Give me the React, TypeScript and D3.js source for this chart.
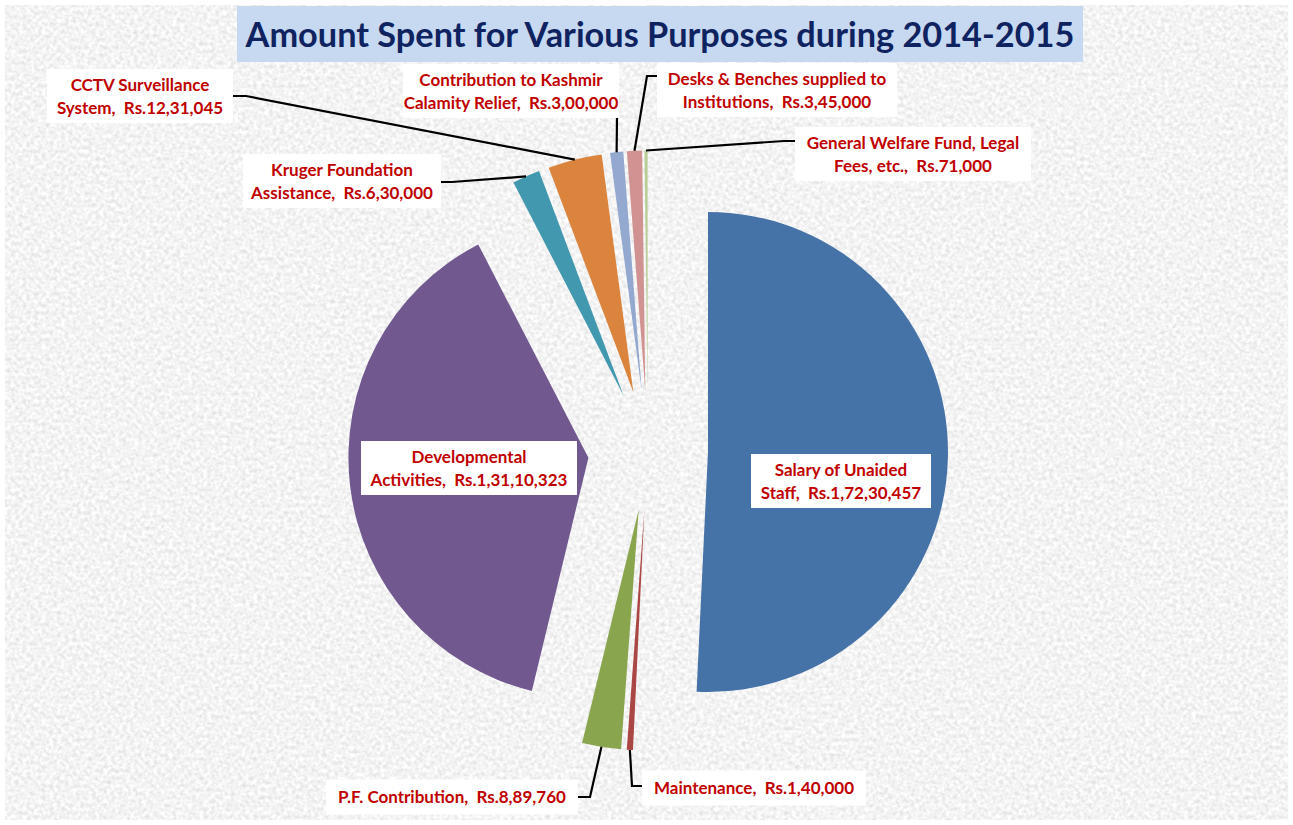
import React from "react";
import * as d3 from "d3";

// Spending heads, clockwise from 12 o'clock
const categories = [
  "Salary of Unaided Staff",
  "Maintenance",
  "P.F. Contribution",
  "Developmental Activities",
  "Kruger Foundation Assistance",
  "CCTV Surveillance System",
  "Contribution to Kashmir Calamity Relief",
  "Desks & Benches supplied to Institutions",
  "General Welfare Fund, Legal Fees, etc.",
];

const amounts = [17230457, 140000, 889760, 13110323, 630000, 1231045, 300000, 345000, 71000];

const labelLines = [
  ["Salary of Unaided", "Staff,  Rs.1,72,30,457"],
  ["Maintenance,  Rs.1,40,000"],
  ["P.F. Contribution,  Rs.8,89,760"],
  ["Developmental", "Activities,  Rs.1,31,10,323"],
  ["Kruger Foundation", "Assistance,  Rs.6,30,000"],
  ["CCTV Surveillance", "System,  Rs.12,31,045"],
  ["Contribution to Kashmir", "Calamity Relief,  Rs.3,00,000"],
  ["Desks & Benches supplied to", "Institutions,  Rs.3,45,000"],
  ["General Welfare Fund, Legal", "Fees, etc.,  Rs.71,000"],
];

const colors = ["#4572A7", "#AA4643", "#89A54E", "#71588F", "#4198AF", "#DB843D", "#93A9CF", "#D19392", "#B9CD96"];

const title = "Amount Spent for Various Purposes during 2014-2015";

// label box centres and widths (layout) and leader start/bend points
const labelPos: [number, number][] = [
  [841, 481], [754, 788], [452, 797], [469, 468], [342, 181],
  [140, 96], [511, 91], [777, 90], [913, 154],
];
const boxWidths = [180, 224, 252, 216, 198, 186, 216, 240, 236];
const leaders: ([number, number][] | null)[] = [
  null,
  [[642, 786], [632, 786]],
  [[578, 797], [590, 797]],
  null,
  [[441, 182], [452, 182]],
  [[233, 96], [246, 96]],
  [[617, 116], [617, 117]],
  [[657, 76], [647, 76]],
  [[795, 141], [784, 141]],
];

const W = 1293;
const H = 825;
const cx = 648;
const cy = 450.5;
const R = 240;
const explode = 60;

export default function App() {
  const arcs = d3.pie<number>().sort(null).startAngle(0).endAngle(2 * Math.PI).value((d) => d)(amounts);
  const arcGen = d3.arc<d3.PieArcDatum<number>>().innerRadius(0).outerRadius(R);
  const font = "Lato, 'Open Sans', sans-serif";
  const fs = 17;
  const lh = 23;

  return (
    <svg width={W} height={H} style={{ position: "absolute", left: 0, top: 0 }} fontFamily={font}>
      <defs>
        <filter id="grain" x="0" y="0" width="100%" height="100%">
          <feTurbulence type="fractalNoise" baseFrequency="0.26" numOctaves="2" seed="7" />
          <feColorMatrix
            type="matrix"
            values="0.42 0 0 0 0.69  0.42 0 0 0 0.69  0.42 0 0 0 0.69  0 0 0 0 1"
          />
        </filter>
      </defs>
      <rect width={W} height={H} fill="#ffffff" />
      <rect x={5} y={5} width={W - 10} height={H - 10} fill="#e6e6e6" filter="url(#grain)" />

      {/* title */}
      <rect x={237} y={6} width={846} height={56} fill="#c6d9f1" />
      <text x={660} y={47} textAnchor="middle" fontSize={34.3} fontWeight={700} fill="#0f2360">
        {title}
      </text>

      {/* slices */}
      {arcs.map((a, i) => {
        const mid = (a.startAngle + a.endAngle) / 2;
        const dx = Math.sin(mid) * explode;
        const dy = -Math.cos(mid) * explode;
        return (
          <path
            key={categories[i]}
            d={arcGen(a) || ""}
            transform={`translate(${cx + dx},${cy + dy})`}
            fill={colors[i]}
          />
        );
      })}

      {/* leader lines */}
      {arcs.map((a, i) => {
        const pts = leaders[i];
        if (!pts) return null;
        const mid = (a.startAngle + a.endAngle) / 2;
        const end: [number, number] = [cx + Math.sin(mid) * (R + explode), cy - Math.cos(mid) * (R + explode)];
        const line = d3.line()([...pts, end]) || "";
        return <path key={"l" + i} d={line} fill="none" stroke="#000" strokeWidth={2.2} />;
      })}

      {/* labels */}
      {labelLines.map((lines, i) => {
        const [x, y] = labelPos[i];
        const bw = boxWidths[i];
        const bh = lines.length * lh + (lines.length > 1 ? 8 : 12);
        return (
          <g key={"t" + i}>
            <rect x={x - bw / 2} y={y - bh / 2} width={bw} height={bh} fill="#ffffff" />
            {lines.map((l, j) => (
              <text
                key={j}
                x={x}
                y={y + (j - (lines.length - 1) / 2) * lh}
                dy="0.36em"
                textAnchor="middle"
                fontSize={fs}
                fontWeight={700}
                fill="#c00000"
                style={{ whiteSpace: "pre" }}
              >
                {l}
              </text>
            ))}
          </g>
        );
      })}
    </svg>
  );
}
